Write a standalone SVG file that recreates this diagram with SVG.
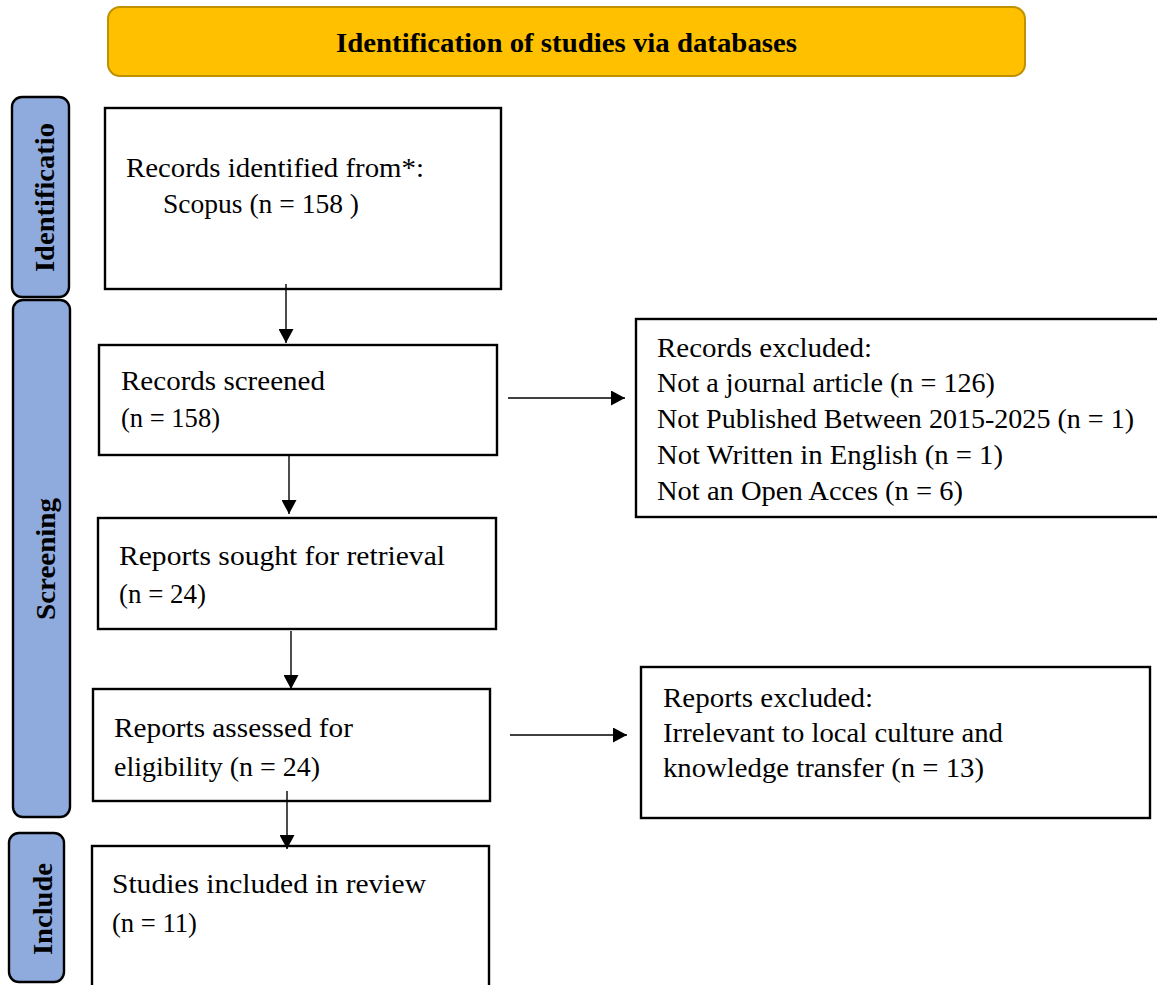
<svg xmlns="http://www.w3.org/2000/svg" width="1157" height="985" viewBox="0 0 1157 985">
<defs>
<marker id="ah" markerWidth="14" markerHeight="15" refX="14" refY="7.5" orient="auto" markerUnits="userSpaceOnUse" viewBox="0 0 14 15">
<path d="M0,0 L14,7.5 L0,15 z" fill="#000"/>
</marker>
<style>
.t{font-family:"Liberation Serif","Times New Roman",serif;font-size:27px;fill:#000}
.b{font-family:"Liberation Serif","Times New Roman",serif;font-size:27px;font-weight:bold;fill:#000}
.box{fill:#fff;stroke:#000;stroke-width:2.4}
.side{fill:#8FAADC;stroke:#000;stroke-width:2.4}
.con{stroke:#000;stroke-width:1.4;fill:none;marker-end:url(#ah)}
</style>
</defs>
<rect width="1157" height="985" fill="#fff"/>
<g id="banner">
<rect x="108" y="7" width="917" height="69" rx="12" fill="#FFC000" stroke="#BF9000" stroke-width="2"/>
<text class="b" x="336" y="52" textLength="461" lengthAdjust="spacingAndGlyphs">Identification of studies via databases</text>
</g>
<g id="side-identification">
<rect class="side" x="12" y="97" width="57" height="200" rx="10"/>
<text class="b" transform="translate(54,272) rotate(-90)" textLength="149" lengthAdjust="spacingAndGlyphs">Identificatio</text>
</g>
<g id="side-screening">
<rect class="side" x="13" y="300" width="57" height="517" rx="10"/>
<text class="b" transform="translate(55,620) rotate(-90)" textLength="122" lengthAdjust="spacingAndGlyphs">Screening</text>
</g>
<g id="side-include">
<rect class="side" x="9" y="833" width="55" height="149" rx="10"/>
<text class="b" transform="translate(52,955) rotate(-90)" textLength="92" lengthAdjust="spacingAndGlyphs">Include</text>
</g>
<g id="n-identified">
<rect class="box" x="105" y="108" width="396" height="181"/>
<text class="t" x="126" y="177" textLength="298" lengthAdjust="spacingAndGlyphs">Records identified from*:</text>
<text class="t" x="163" y="213" textLength="196" lengthAdjust="spacingAndGlyphs">Scopus (n = 158 )</text>
</g>
<g id="n-screened">
<rect class="box" x="99" y="345" width="398" height="110"/>
<text class="t" x="121" y="390" textLength="204" lengthAdjust="spacingAndGlyphs">Records screened</text>
<text class="t" x="121" y="427" textLength="99" lengthAdjust="spacingAndGlyphs">(n = 158)</text>
</g>
<g id="n-excluded1">
<rect class="box" x="636" y="319" width="540" height="198"/>
<text class="t" x="657" y="357" textLength="215" lengthAdjust="spacingAndGlyphs">Records excluded:</text>
<text class="t" x="657" y="392" textLength="338" lengthAdjust="spacingAndGlyphs">Not a journal article (n = 126)</text>
<text class="t" x="657" y="428" textLength="477" lengthAdjust="spacingAndGlyphs">Not Published Between 2015-2025 (n = 1)</text>
<text class="t" x="657" y="464" textLength="346" lengthAdjust="spacingAndGlyphs">Not Written in English (n = 1)</text>
<text class="t" x="657" y="500" textLength="306" lengthAdjust="spacingAndGlyphs">Not an Open Acces (n = 6)</text>
</g>
<g id="n-sought">
<rect class="box" x="98" y="518" width="398" height="111"/>
<text class="t" x="119" y="565" textLength="326" lengthAdjust="spacingAndGlyphs">Reports sought for retrieval</text>
<text class="t" x="119" y="603" textLength="87" lengthAdjust="spacingAndGlyphs">(n = 24)</text>
</g>
<g id="n-assessed">
<rect class="box" x="93" y="689" width="397" height="112"/>
<text class="t" x="114" y="737" textLength="239" lengthAdjust="spacingAndGlyphs">Reports assessed for</text>
<text class="t" x="114" y="776" textLength="206" lengthAdjust="spacingAndGlyphs">eligibility (n = 24)</text>
</g>
<g id="n-excluded2">
<rect class="box" x="641" y="667" width="509" height="151"/>
<text class="t" x="663" y="707" textLength="210" lengthAdjust="spacingAndGlyphs">Reports excluded:</text>
<text class="t" x="663" y="742" textLength="340" lengthAdjust="spacingAndGlyphs">Irrelevant to local culture and</text>
<text class="t" x="663" y="777" textLength="321" lengthAdjust="spacingAndGlyphs">knowledge transfer (n = 13)</text>
</g>
<g id="n-included">
<rect class="box" x="92" y="846" width="397" height="160"/>
<text class="t" x="112" y="893" textLength="314" lengthAdjust="spacingAndGlyphs">Studies included in review</text>
<text class="t" x="112" y="932" textLength="85" lengthAdjust="spacingAndGlyphs">(n = 11)</text>
</g>
<g id="connectors">
<line class="con" x1="286" y1="284" x2="286" y2="343"/>
<line class="con" x1="289" y1="456" x2="289" y2="514"/>
<line class="con" x1="291" y1="631" x2="291" y2="689"/>
<line class="con" x1="287" y1="791" x2="287" y2="849"/>
<line class="con" x1="508" y1="398" x2="625" y2="398"/>
<line class="con" x1="510" y1="735" x2="627" y2="735"/>
</g>
</svg>
